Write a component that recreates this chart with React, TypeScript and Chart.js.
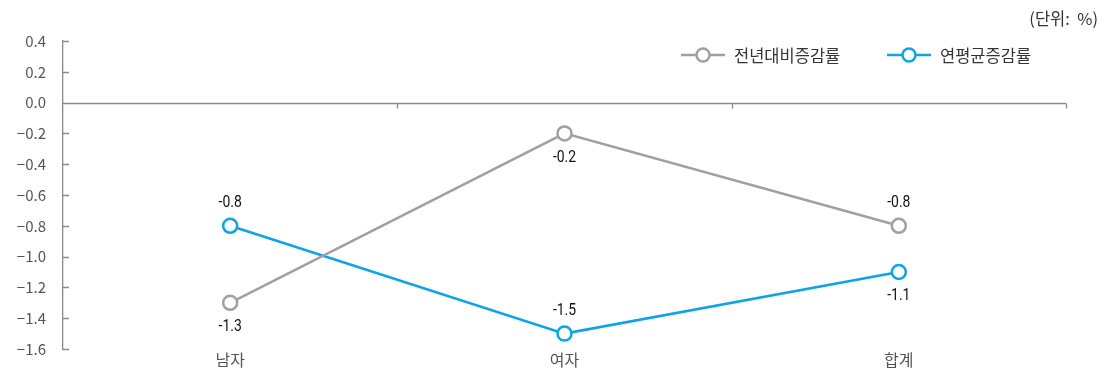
import React, { useEffect, useRef } from "react";
import { Chart, registerables } from "chart.js";

Chart.register(...registerables);

const categories = ["남자", "여자", "합계"];
const seriesNames = ["전년대비증감률", "연평균증감률"];
const yoyValues = [-1.3, -0.2, -0.8];
const cagrValues = [-0.8, -1.5, -1.1];
const yoyLabelPos = ["below", "below", "above"];
const cagrLabelPos = ["above", "above", "below"];
const unitLabel = "(단위:  %)";
const yMin = -1.6;
const yMax = 0.4;
const yStep = 0.2;

const GRAY = "#a0a0a0";
const BLUE = "#0ea2e6";
const AXIS = "#8a8a8a";
const KFONT = "'Noto Sans CJK KR', 'Noto Sans', sans-serif";
const NUMFONT = "'Roboto', 'Noto Sans', sans-serif";

const decorPlugin = {
  id: "decor",
  afterDatasetsDraw(chart: any) {
    const { ctx, chartArea, scales } = chart;
    const x = scales.x;
    const y = scales.y;
    ctx.save();
    const y0 = Math.round(y.getPixelForValue(0)) + 0.5;
    ctx.strokeStyle = AXIS;
    ctx.lineWidth = 1.3;
    ctx.beginPath();
    ctx.moveTo(chartArea.left, y0);
    ctx.lineTo(chartArea.right, y0);
    for (let i = 1; i <= categories.length; i++) {
      const bx = Math.round(x.getPixelForValue(i - 0.5)) + 0.5;
      ctx.moveTo(bx, y0);
      ctx.lineTo(bx, y0 + 5);
    }
    y.ticks.forEach((t: any) => {
      const py = Math.round(y.getPixelForValue(t.value)) + 0.5;
      ctx.moveTo(chartArea.left, py);
      ctx.lineTo(chartArea.left + 6, py);
    });
    ctx.stroke();

    ctx.fillStyle = "#111";
    ctx.font = `17px ${NUMFONT}`;
    ctx.textAlign = "center";
    ctx.textBaseline = "middle";
    const posSets = [yoyLabelPos, cagrLabelPos];
    chart.data.datasets.forEach((ds: any, di: number) => {
      const meta = chart.getDatasetMeta(di);
      meta.data.forEach((pt: any, i: number) => {
        const v = ds.data[i];
        const off = posSets[di][i] === "above" ? -23 : 24;
        ctx.save();
        ctx.translate(pt.x, pt.y + off);
        ctx.scale(0.82, 1);
        ctx.fillText(v.toFixed(1), 0, 0);
        ctx.restore();
      });
    });

    const ly = 55;
    const items = [
      { x: 681, color: GRAY, text: seriesNames[0] },
      { x: 887, color: BLUE, text: seriesNames[1] },
    ];
    items.forEach((it) => {
      ctx.strokeStyle = it.color;
      ctx.lineWidth = 2.5;
      ctx.beginPath();
      ctx.moveTo(it.x, ly);
      ctx.lineTo(it.x + 44, ly);
      ctx.stroke();
      ctx.beginPath();
      ctx.arc(it.x + 22, ly, 6.5, 0, Math.PI * 2);
      ctx.fillStyle = "#fff";
      ctx.fill();
      ctx.stroke();
      ctx.fillStyle = "#333";
      ctx.font = `16.5px ${KFONT}`;
      ctx.textAlign = "left";
      ctx.fillText(it.text, it.x + 53, ly + 1);
    });

    ctx.fillStyle = "#333";
    ctx.font = `16.5px ${KFONT}`;
    ctx.textAlign = "right";
    ctx.fillText(unitLabel, 1098, 19);
    ctx.restore();
  },
};

export default function App() {
  const ref = useRef<HTMLCanvasElement>(null);
  useEffect(() => {
    if (!ref.current) return;
    const chart = new Chart(ref.current, {
      type: "line",
      data: {
        labels: categories,
        datasets: [
          {
            label: seriesNames[0],
            data: yoyValues,
            borderColor: GRAY,
            backgroundColor: "#fff",
            borderWidth: 2.5,
            pointRadius: 7,
            pointBorderWidth: 2.5,
            pointBackgroundColor: "#fff",
            pointBorderColor: GRAY,
            tension: 0,
          },
          {
            label: seriesNames[1],
            data: cagrValues,
            borderColor: BLUE,
            backgroundColor: "#fff",
            borderWidth: 2.5,
            pointRadius: 7,
            pointBorderWidth: 2.5,
            pointBackgroundColor: "#fff",
            pointBorderColor: BLUE,
            tension: 0,
          },
        ],
      },
      options: {
        animation: false,
        responsive: false,
        maintainAspectRatio: false,
        layout: { padding: { top: 41, right: 44, left: 0, bottom: 0 } },
        plugins: {
          legend: { display: false },
          tooltip: { enabled: false },
        },
        scales: {
          x: {
            type: "category",
            offset: true,
            grid: { display: false, drawTicks: false },
            border: { display: false },
            ticks: {
              padding: 1,
              color: "#555",
              font: { family: KFONT, size: 16 },
            },
            afterFit(scale: any) {
              scale.height = 23;
              scale.paddingLeft = 0;
              scale.paddingRight = 0;
            },
          },
          y: {
            min: yMin,
            max: yMax,
            grid: { display: false, drawTicks: false },
            border: { display: true, color: AXIS, width: 1.3 },
            ticks: {
              stepSize: yStep,
              padding: 17,
              color: "#555",
              font: { family: KFONT, size: 15 },
              callback: (v: any) => Number(v).toFixed(1).replace("-", "−"),
            },
            afterFit(scale: any) {
              scale.width = 63;
              scale.paddingTop = 0;
              scale.paddingBottom = 0;
            },
          },
        },
      },
      plugins: [decorPlugin],
    });
    return () => chart.destroy();
  }, []);
  return (
    <div style={{ position: "fixed", left: 0, top: 0, width: 1110, height: 372, background: "#fff" }}>
      <canvas ref={ref} width={1110} height={372} style={{ width: 1110, height: 372 }} />
    </div>
  );
}
